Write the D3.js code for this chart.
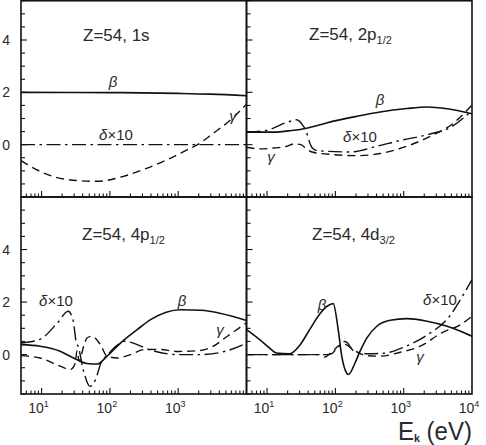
<!DOCTYPE html>
<html>
<head>
<meta charset="utf-8">
<script src="https://cdn.jsdelivr.net/npm/d3@7"></script>
<style>
  html, body { margin: 0; padding: 0; background: #fff; }
  svg { display: block; font-family: "Liberation Sans", Arial, Helvetica, sans-serif; }
</style>
</head>
<body>
<svg id="chart" width="486" height="445"></svg>
<script>
// ---- data (E in eV) ----
const xDomain = [5, 10000];
const yTicks = [0, 2, 4];
const xTickExps = [1, 2, 3, 4];

// Z=54, 1s
const e1sBeta = [5, 100, 1000, 3000, 10000];
const v1sBeta = [2.0, 1.99, 1.96, 1.93, 1.87];
const e1sDelta = [5, 10000];
const v1sDelta = [0, 0];
const e1sGamma = [5, 9.5, 23.5, 65, 158, 311, 695, 1370, 1920, 3310, 5890, 10000];
const v1sGamma = [-0.61, -1.02, -1.33, -1.40, -1.21, -0.95, -0.57, -0.19, 0, 0.45, 0.95, 1.55];

// Z=54, 2p1/2
const e2pBeta = [5, 12.3, 21.4, 37.8, 74, 204, 452, 1110, 2200, 4330, 10000];
const v2pBeta = [0.48, 0.48, 0.53, 0.63, 0.83, 1.08, 1.25, 1.38, 1.44, 1.37, 1.18];
const e2pDelta = [5, 9.2, 20.9, 26.9, 33.7, 37.8, 40.7, 46, 53, 70, 164, 404, 889, 2200, 4830, 10000];
const v2pDelta = [0.48, 0.53, 0.88, 0.95, 0.72, 0.48, 0.19, -0.13, -0.22, -0.25, -0.28, -0.06, 0.16, 0.38, 0.66, 1.3];
const e2pGamma = [5, 8.2, 12.2, 19.5, 25.1, 31.4, 39, 47, 93, 205, 452, 1110, 2450, 5410, 10000];
const v2pGamma = [-0.10, -0.16, -0.13, -0.06, 0.03, 0.0, -0.19, -0.29, -0.38, -0.42, -0.34, -0.06, 0.32, 0.83, 1.52];

// Z=54, 4p1/2
const e4pBeta = [5, 9.5, 18.7, 29.4, 46.2, 65, 91, 143, 251, 394, 1090, 2140, 10000];
const v4pBeta = [0.38, 0.32, 0.13, -0.13, -0.34, -0.36, -0.06, 0.44, 0.95, 1.33, 1.71, 1.69, 1.30];
const e4pDelta = [5, 9.3, 17.4, 24.5, 28.8, 32.4, 34.3, 40.7, 51.3, 61.7, 74, 93, 132, 162, 251, 380, 1000, 2140, 5250, 10000];
const v4pDelta = [0.44, 0.57, 1.23, 1.65, 1.33, 0.44, 0.32, -0.57, -1.21, -0.95, -0.32, 0, 0.38, 0.51, 0.38, 0.19, 0, 0, 0.15, 0.44];
const e4pGamma = [5, 9.5, 18.7, 26.3, 30.9, 33.1, 35.5, 41.7, 46.2, 54.8, 72.6, 91, 128, 200, 313, 500, 1000, 2000, 3160, 5250, 10000];
const v4pGamma = [-0.04, -0.13, -0.44, -0.57, -0.35, 0.15, -0.25, 0.35, 0.63, 0.70, 0.38, -0.06, -0.13, 0, 0.19, 0.2, 0.12, 0.15, 0.3, 0.70, 1.21];

// Z=54, 4d3/2
const e4dBeta = [5, 7.8, 10.9, 13.6, 21.4, 30, 42, 59, 80, 93, 110, 124, 146, 155, 194, 230, 288, 404, 634, 1115, 2200, 4330, 6800, 10000];
const v4dBeta = [0.95, 0.57, 0.25, 0.06, 0.03, 0.35, 0.95, 1.55, 1.88, 1.94, 0.95, -0.06, -0.70, -0.76, -0.32, 0.13, 0.63, 1.08, 1.31, 1.37, 1.27, 1.08, 0.89, 0.70];
const e4dDelta = [5, 50, 75, 90, 105, 118, 135, 150, 175, 200, 300, 500, 1000, 2250, 4500, 7500, 10000];
const v4dDelta = [0, 0, 0, 0.05, 0.25, 0.35, 0.5, 0.45, 0.2, 0.1, 0.03, 0.05, 0.28, 0.76, 1.40, 2.29, 2.86];
const e4dGamma = [5, 60, 70, 90, 110, 130, 150, 182, 288, 452, 890, 1750, 3600, 6800, 10000];
const v4dGamma = [0, 0, -0.09, 0.12, 0.32, 0.42, 0.35, 0.19, -0.04, -0.06, 0.09, 0.32, 0.83, 1.14, 1.46];

// ---- layout ----
const svg = d3.select("#chart");
const colX = [21, 246.5, 472];
const rowY = [0.75, 197, 394];
const ink = "#111";
const txt = "#2a2a2a";

const panels = [
  { col: 0, row: 0, yDom: [-2, 5.5], title: ["Z=54, 1s", ""], tx: 83, ty: 41,
    beta: [e1sBeta, v1sBeta], delta: [e1sDelta, v1sDelta], gamma: [e1sGamma, v1sGamma],
    lab: { beta: [113, 87], delta: [116, 140], gamma: [233, 121] } },
  { col: 1, row: 0, yDom: [-2, 5.5], title: ["Z=54, 2p", "1/2"], tx: 309, ty: 40,
    beta: [e2pBeta, v2pBeta], delta: [e2pDelta, v2pDelta], gamma: [e2pGamma, v2pGamma],
    lab: { beta: [380, 105], delta: [360, 142], gamma: [271, 162] } },
  { col: 0, row: 1, yDom: [-1.5, 6], title: ["Z=54, 4p", "1/2"], tx: 82, ty: 240,
    beta: [e4pBeta, v4pBeta], delta: [e4pDelta, v4pDelta], gamma: [e4pGamma, v4pGamma],
    lab: { beta: [182, 306], delta: [56, 306], gamma: [220, 335] } },
  { col: 1, row: 1, yDom: [-1.5, 6], title: ["Z=54, 4d", "3/2"], tx: 312, ty: 240,
    beta: [e4dBeta, v4dBeta], delta: [e4dDelta, v4dDelta], gamma: [e4dGamma, v4dGamma],
    lab: { beta: [322, 310], delta: [440, 305], gamma: [420, 362] } }
];

const defs = svg.append("defs");

panels.forEach((p, i) => {
  const x0 = colX[p.col], x1 = colX[p.col + 1];
  const y0 = rowY[p.row], y1 = rowY[p.row + 1];
  const x = d3.scaleLog().domain(xDomain).range([x0, x1]);
  const y = d3.scaleLinear().domain(p.yDom).range([y1, y0]);

  defs.append("clipPath").attr("id", "clip" + i)
    .append("rect").attr("x", x0).attr("y", y0).attr("width", x1 - x0).attr("height", y1 - y0);

  const g = svg.append("g");

  // frame
  g.append("rect").attr("x", x0).attr("y", y0).attr("width", x1 - x0).attr("height", y1 - y0)
    .attr("fill", "none").attr("stroke", ink).attr("stroke-width", 1.6);

  // y ticks (inward, left side)
  const yMinor = d3.range(p.yDom[0], p.yDom[1] + 0.001, 0.5);
  g.selectAll(".yt").data(yMinor).join("line")
    .attr("x1", x0).attr("x2", d => x0 + (yTicks.includes(d) ? 6 : 4))
    .attr("y1", d => y(d)).attr("y2", d => y(d))
    .attr("stroke", ink).attr("stroke-width", 1.1);

  if (p.col === 0) {
    g.selectAll(".yl").data(yTicks).join("text")
      .attr("x", 10).attr("y", d => y(d) + 5)
      .attr("text-anchor", "end").attr("font-size", 14).attr("fill", txt)
      .text(d => d);
  }

  // x ticks (inward, bottom)
  const xt = [];
  for (let e = 0; e <= 3; e++) for (let m = 1; m <= 9; m++) {
    const v = m * Math.pow(10, e);
    if (v > xDomain[0] && v < xDomain[1]) xt.push({ v: v, major: m === 1 });
  }
  g.selectAll(".xt").data(xt).join("line")
    .attr("x1", d => x(d.v)).attr("x2", d => x(d.v))
    .attr("y1", y1).attr("y2", d => y1 - (d.major ? 6 : 3.5))
    .attr("stroke", ink).attr("stroke-width", 1.1);

  if (p.row === 1) {
    const exps = p.col === 0 ? xTickExps.slice(0, 3) : xTickExps;
    exps.forEach(k => {
      const t = g.append("text").attr("x", x(Math.pow(10, k)) - 3).attr("y", 413)
        .attr("text-anchor", "middle").attr("font-size", 14).attr("fill", txt);
      t.append("tspan").text("10");
      t.append("tspan").attr("dy", -6).attr("font-size", 9).text(k);
    });
  }

  // curves
  const line = d3.line().x(d => x(d[0])).y(d => y(d[1])).curve(d3.curveMonotoneX);
  const cg = g.append("g").attr("clip-path", "url(#clip" + i + ")");
  const mk = s => d3.zip(s[0], s[1]);
  cg.append("path").datum(mk(p.beta)).attr("d", line)
    .attr("fill", "none").attr("stroke", ink).attr("stroke-width", 1.6);
  cg.append("path").datum(mk(p.gamma)).attr("d", line)
    .attr("fill", "none").attr("stroke", ink).attr("stroke-width", 1.4)
    .attr("stroke-dasharray", "8,5");
  cg.append("path").datum(mk(p.delta)).attr("d", line)
    .attr("fill", "none").attr("stroke", ink).attr("stroke-width", 1.4)
    .attr("stroke-dasharray", "14,4.5,2.5,4.5");

  // title
  const tt = g.append("text").attr("x", p.tx).attr("y", p.ty)
    .attr("font-size", 17).attr("fill", txt);
  tt.append("tspan").text(p.title[0]);
  if (p.title[1]) tt.append("tspan").attr("dy", 4).attr("font-size", 11).text(p.title[1]);

  // curve labels
  g.append("text").attr("x", p.lab.beta[0]).attr("y", p.lab.beta[1])
    .attr("text-anchor", "middle").attr("font-size", 15).attr("font-style", "italic")
    .attr("fill", txt).text("β");
  g.append("text").attr("x", p.lab.gamma[0]).attr("y", p.lab.gamma[1])
    .attr("text-anchor", "middle").attr("font-size", 15).attr("font-style", "italic")
    .attr("fill", txt).text("γ");
  const dl = g.append("text").attr("x", p.lab.delta[0]).attr("y", p.lab.delta[1])
    .attr("text-anchor", "middle").attr("font-size", 15).attr("fill", txt);
  dl.append("tspan").attr("font-style", "italic").text("δ");
  dl.append("tspan").text("×10");
});

// axis title
const xl = svg.append("text").attr("x", 398).attr("y", 440).attr("font-size", 25).attr("fill", txt)
  .attr("textLength", 74).attr("lengthAdjust", "spacingAndGlyphs");
xl.append("tspan").text("E");
xl.append("tspan").attr("dy", 2).attr("font-size", 11).attr("font-weight", "bold").text("k");
xl.append("tspan").attr("dy", -2).text(" (eV)");
</script>
</body>
</html>
